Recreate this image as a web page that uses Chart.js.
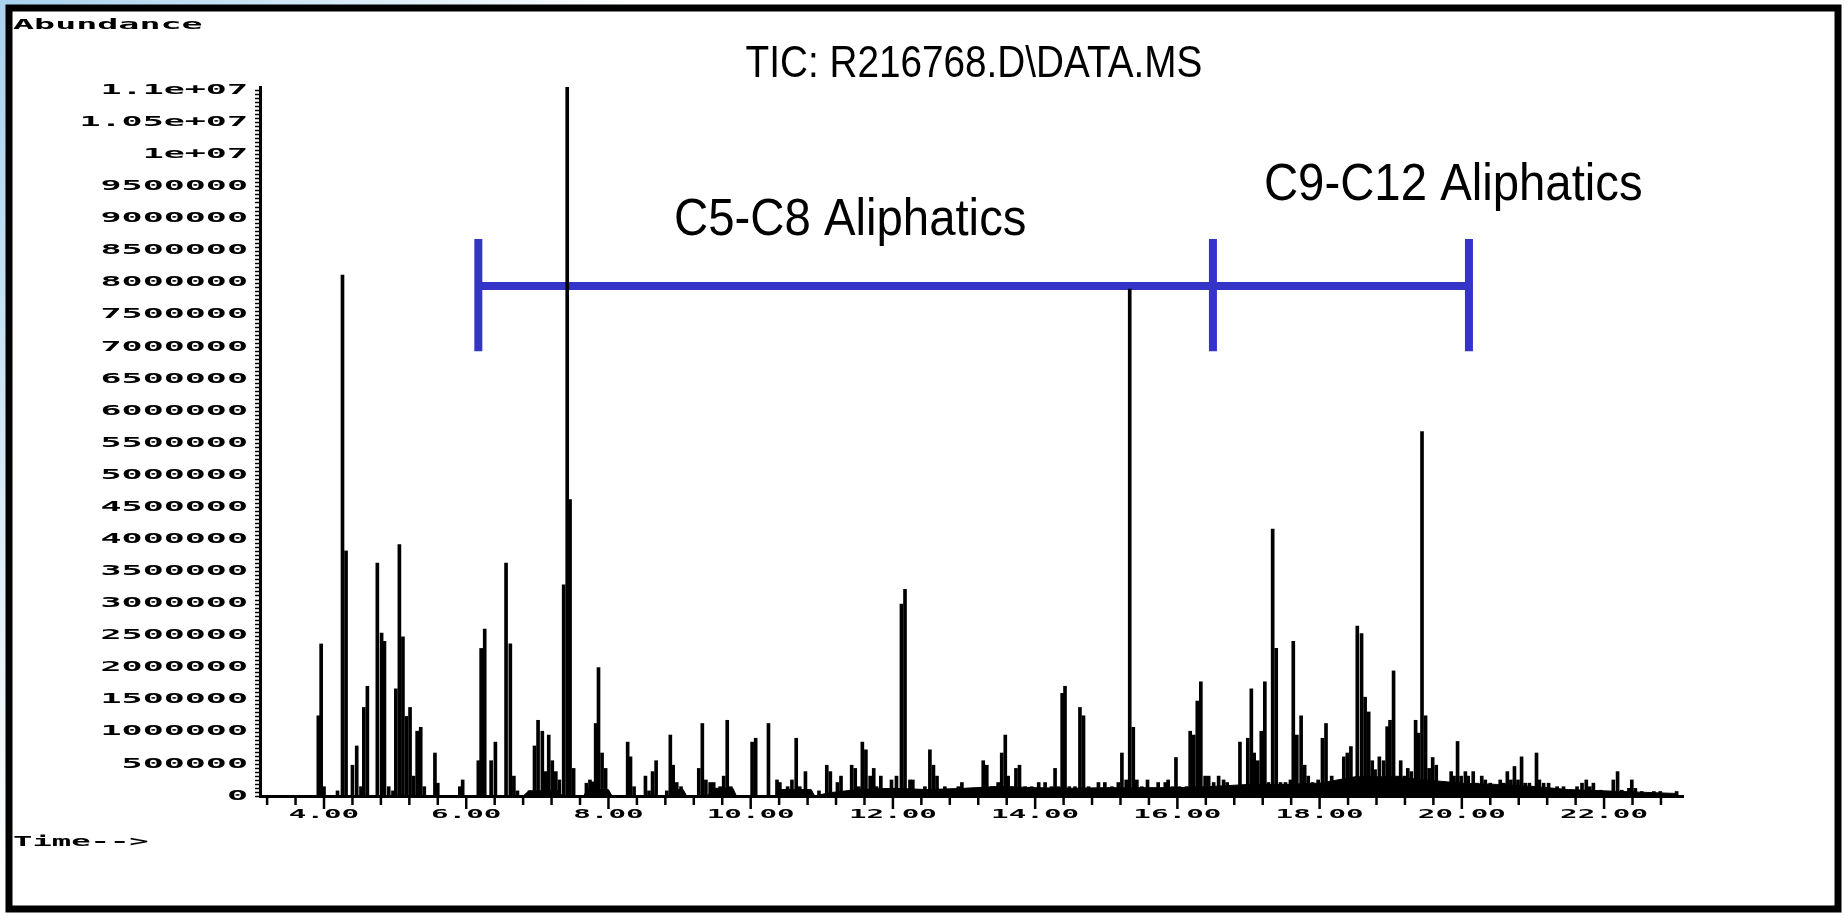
<!DOCTYPE html>
<html>
<head>
<meta charset="utf-8">
<title>TIC: R216768.D\DATA.MS</title>
<script src="https://cdn.jsdelivr.net/npm/chart.js@4.4.1/dist/chart.umd.min.js"></script>
<style>
    html, body { margin: 0; padding: 0; background: #fff; overflow: hidden; }
    canvas { display: block; }
</style>
</head>
<body>
<canvas id="tic" width="1847" height="916"></canvas>
<script>
// retention time (min) and abundance of each spike
const retentionTimes = [
    3.92, 3.96, 4.00, 4.19, 4.26, 4.31, 4.40, 4.46, 4.52, 4.56,
    4.61, 4.75, 4.81, 4.85, 4.91, 4.97, 5.01, 5.06, 5.11, 5.16,
    5.21, 5.26, 5.31, 5.36, 5.41, 5.56, 5.60, 5.91, 5.95, 6.17,
    6.21, 6.26, 6.35, 6.41, 6.56, 6.62, 6.67, 6.72, 6.89, 6.96,
    7.01, 7.07, 7.11, 7.16, 7.21, 7.26, 7.31, 7.37, 7.42, 7.46,
    7.51, 7.69, 7.74, 7.78, 7.82, 7.86, 7.91, 7.96, 8.27, 8.31,
    8.36, 8.52, 8.57, 8.62, 8.67, 8.82, 8.87, 8.91, 8.96, 9.02,
    9.27, 9.32, 9.37, 9.43, 9.48, 9.57, 9.62, 9.67, 9.72, 10.02,
    10.07, 10.25, 10.37, 10.41, 10.52, 10.58, 10.64, 10.69, 10.77, 10.84,
    10.96, 11.07, 11.12, 11.22, 11.27, 11.42, 11.47, 11.52, 11.57, 11.62,
    11.68, 11.73, 11.77, 11.83, 11.98, 12.05, 12.12, 12.17, 12.24, 12.28,
    12.45, 12.52, 12.57, 12.62, 12.73, 12.92, 12.97, 13.27, 13.32, 13.39,
    13.48, 13.53, 13.58, 13.62, 13.67, 13.73, 13.78, 13.86, 13.95, 14.05,
    14.14, 14.23, 14.28, 14.33, 14.38, 14.42, 14.48, 14.56, 14.63, 14.68,
    14.75, 14.89, 14.98, 15.08, 15.17, 15.22, 15.28, 15.33, 15.38, 15.43,
    15.50, 15.58, 15.64, 15.73, 15.83, 15.87, 15.93, 15.98, 16.03, 16.13,
    16.18, 16.23, 16.28, 16.33, 16.39, 16.44, 16.51, 16.58, 16.65, 16.70,
    16.79, 16.88, 16.93, 16.99, 17.04, 17.08, 17.13, 17.18, 17.23, 17.28,
    17.34, 17.39, 17.45, 17.52, 17.59, 17.63, 17.68, 17.74, 17.79, 17.84,
    17.90, 17.98, 18.04, 18.09, 18.17, 18.24, 18.34, 18.39, 18.44, 18.49,
    18.53, 18.59, 18.64, 18.69, 18.74, 18.78, 18.84, 18.90, 18.95, 18.99,
    19.04, 19.09, 19.14, 19.19, 19.24, 19.29, 19.35, 19.39, 19.44, 19.49,
    19.54, 19.59, 19.64, 19.70, 19.74, 19.80, 19.85, 19.89, 19.94, 19.99,
    20.05, 20.09, 20.16, 20.21, 20.28, 20.33, 20.40, 20.47, 20.54, 20.59,
    20.64, 20.69, 20.74, 20.79, 20.84, 20.89, 20.95, 21.00, 21.05, 21.09,
    21.15, 21.22, 21.28, 21.34, 21.43, 21.53, 21.62, 21.69, 21.75, 21.80,
    21.85, 21.95, 22.04, 22.13, 22.19, 22.25, 22.35, 22.39, 22.44, 22.53,
    22.70, 22.79, 23.02
];
const abundances = [
    1250000, 2370000, 145000, 80000, 8120000, 3820000, 480000, 780000, 145000, 1380000,
    1710000, 3630000, 2540000, 2410000, 145000, 80000, 1670000, 3920000, 2480000, 1240000,
    1380000, 310000, 1010000, 1070000, 145000, 670000, 200000, 145000, 250000, 550000,
    2300000, 2600000, 550000, 840000, 3630000, 2370000, 310000, 80000, 80000, 780000,
    1180000, 1010000, 380000, 950000, 550000, 380000, 250000, 3290000, 11050000, 4620000,
    430000, 200000, 250000, 220000, 1130000, 2000000, 670000, 430000, 840000, 610000,
    145000, 310000, 80000, 380000, 550000, 80000, 950000, 480000, 210000, 145000,
    430000, 1130000, 250000, 210000, 210000, 145000, 310000, 1180000, 145000, 840000,
    900000, 1130000, 250000, 210000, 145000, 250000, 900000, 145000, 380000, 80000,
    80000, 480000, 380000, 210000, 310000, 480000, 430000, 145000, 840000, 720000,
    310000, 430000, 145000, 310000, 250000, 310000, 2990000, 3220000, 250000, 250000,
    145000, 720000, 480000, 310000, 145000, 145000, 210000, 550000, 480000, 145000,
    210000, 670000, 950000, 310000, 145000, 430000, 480000, 145000, 145000, 210000,
    210000, 145000, 430000, 145000, 1600000, 1710000, 145000, 145000, 1380000, 1250000,
    145000, 210000, 210000, 145000, 210000, 670000, 250000, 7900000, 1070000, 250000,
    145000, 250000, 80000, 210000, 210000, 250000, 145000, 600000, 145000, 145000,
    1010000, 950000, 1480000, 1780000, 310000, 310000, 210000, 310000, 250000, 210000,
    145000, 840000, 145000, 900000, 1670000, 670000, 550000, 1010000, 1780000, 210000,
    4160000, 2300000, 210000, 210000, 250000, 2410000, 950000, 1250000, 480000, 310000,
    210000, 250000, 900000, 1130000, 310000, 200000, 610000, 670000, 770000, 200000,
    2650000, 2530000, 1540000, 1310000, 550000, 410000, 610000, 550000, 1080000, 1180000,
    1950000, 310000, 550000, 310000, 430000, 380000, 1180000, 980000, 5680000, 1250000,
    430000, 600000, 480000, 200000, 145000, 200000, 380000, 310000, 850000, 310000,
    380000, 310000, 380000, 200000, 310000, 250000, 200000, 145000, 250000, 200000,
    380000, 250000, 460000, 250000, 610000, 200000, 200000, 145000, 670000, 250000,
    200000, 200000, 90000, 145000, 145000, 90000, 145000, 200000, 250000, 145000,
    200000, 90000, 70000, 250000, 380000, 90000, 120000, 250000, 120000, 70000,
    70000, 70000, 70000
];

// unresolved baseline band under the spikes
const bandTimes = [
    3.10, 6.80, 6.88, 7.30, 7.35, 7.65, 7.70, 8.00, 8.05, 8.85,
    8.90, 9.05, 9.10, 9.40, 9.45, 9.75, 9.80, 10.35, 10.40, 10.85,
    10.90, 11.10, 11.50, 12.00, 12.50, 13.00, 13.50, 14.00, 14.50, 15.00,
    15.50, 16.00, 16.50, 17.00, 17.50, 18.00, 18.50, 19.00, 19.50, 20.00,
    20.50, 21.00, 21.50, 22.00, 22.50, 23.00, 23.05
];
const bandLevels = [
    0, 0, 80000, 80000, 0, 0, 100000, 100000, 0, 0,
    100000, 100000, 0, 0, 120000, 120000, 0, 0, 100000, 100000,
    0, 50000, 100000, 120000, 100000, 120000, 150000, 130000, 120000, 130000,
    130000, 130000, 150000, 180000, 180000, 200000, 300000, 300000, 250000, 200000,
    180000, 150000, 100000, 80000, 60000, 40000, 0
];

// axis ticks
const xTickValues = [4, 6, 8, 10, 12, 14, 16, 18, 20, 22];
const xTickLabels = ["4.00", "6.00", "8.00", "10.00", "12.00", "14.00", "16.00", "18.00", "20.00", "22.00"];
const yTickValues = [0, 500000, 1000000, 1500000, 2000000, 2500000, 3000000, 3500000, 4000000, 4500000,
    5000000, 5500000, 6000000, 6500000, 7000000, 7500000, 8000000, 8500000, 9000000, 9500000,
    10000000, 10500000, 11000000];
const yTickLabels = ["0", "500000", "1000000", "1500000", "2000000", "2500000", "3000000", "3500000",
    "4000000", "4500000", "5000000", "5500000", "6000000", "6500000", "7000000", "7500000",
    "8000000", "8500000", "9000000", "9500000", "1e+07", "1.05e+07", "1.1e+07"];

// carbon range brackets (min) and where their labels sit
const rangeEdges = [6.17, 16.5, 20.1];
const rangeLevel = 7950000;
const rangeLabels = ["C5-C8 Aliphatics", "C9-C12 Aliphatics"];
const rangeLabelTimes = [11.4, 19.88];
const rangeLabelLevels = [8740000, 9290000];

const W = 1847, H = 916;
const BLUE = "#3434c8";

function stretchText(c, text, x, y, font, sx, align, baseline)
{
    c.save();
    c.font = font;
    c.textAlign = align;
    c.textBaseline = baseline;
    c.fillStyle = "#000";
    c.translate(x, y);
    c.scale(sx, 1);
    c.fillText(text, 0, 0);
    c.restore();
}

const decor = {
    id: "decor",
    beforeDraw(chart)
    {
        let c = chart.ctx;
        c.save();
        let g = c.createLinearGradient(0, 0, 420, 300);
        g.addColorStop(0, "#a7d2ee");
        g.addColorStop(1, "#ffffff");
        c.fillStyle = g;
        c.fillRect(0, 0, W, H);
        c.fillStyle = "#fff";
        c.fillRect(9, 8, 1829, 901);
        c.restore();
    },
    beforeDatasetsDraw(chart)
    {
        let c = chart.ctx;
        let x = chart.scales.x, y = chart.scales.y;
        c.save();
        c.strokeStyle = BLUE;
        c.lineWidth = 8;
        c.lineCap = "butt";
        let yl = y.getPixelForValue(rangeLevel);
        c.beginPath();
        c.moveTo(x.getPixelForValue(rangeEdges[0]), yl);
        c.lineTo(x.getPixelForValue(rangeEdges[rangeEdges.length - 1]), yl);
        c.stroke();
        let top = y.getPixelForValue(8680000), bot = y.getPixelForValue(6930000);
        for (let i = 0; i < rangeEdges.length; i++)
        {
            let px = x.getPixelForValue(rangeEdges[i]);
            c.beginPath();
            c.moveTo(px, top);
            c.lineTo(px, bot);
            c.stroke();
        }
        c.restore();
        for (let i = 0; i < rangeLabels.length; i++)
        {
            stretchText(c, rangeLabels[i], x.getPixelForValue(rangeLabelTimes[i]),
                y.getPixelForValue(rangeLabelLevels[i]), "52px 'Liberation Sans'", 0.91, "center", "alphabetic");
        }
    },
    afterDraw(chart)
    {
        let c = chart.ctx;
        let x = chart.scales.x, y = chart.scales.y;
        let area = chart.chartArea;
        c.save();
        // frame of the slide
        c.strokeStyle = "#000";
        c.lineWidth = 7;
        c.strokeRect(9, 8, 1829, 901);

        // x ticks, minor every 0.4 min
        c.lineWidth = 2.5;
        for (let i = 0; ; i++)
        {
            let t = 3.2 + 0.4 * i;
            if (t > x.max) break;
            let px = x.getPixelForValue(t);
            let major = Math.abs(t / 2 - Math.round(t / 2)) < 0.01;
            c.beginPath();
            c.moveTo(px, area.bottom);
            c.lineTo(px, area.bottom + (major ? 13 : 9));
            c.stroke();
        }
        // y ticks
        c.lineWidth = 1.5;
        for (let v = 0; v <= y.max; v += 62500)
        {
            let py = Math.round(y.getPixelForValue(v)) + 0.5;
            c.beginPath();
            c.moveTo(area.left - 5, py);
            c.lineTo(area.left - 1, py);
            c.stroke();
        }
        c.restore();

        for (let i = 0; i < yTickValues.length; i++)
        {
            stretchText(c, yTickLabels[i], 248, y.getPixelForValue(yTickValues[i]),
                "bold 14px 'DejaVu Sans Mono'", 2.5, "right", "middle");
        }
        for (let i = 0; i < xTickValues.length; i++)
        {
            stretchText(c, xTickLabels[i], x.getPixelForValue(xTickValues[i]), 815,
                "bold 13px 'DejaVu Sans Mono'", 2.25, "center", "middle");
        }
        stretchText(c, "Abundance", 13, 25, "bold 14px 'DejaVu Sans Mono'", 2.5, "left", "middle");
        stretchText(c, "Time-->", 13, 842, "bold 14px 'DejaVu Sans Mono'", 2.3, "left", "middle");
        stretchText(c, "TIC: R216768.D\\DATA.MS", 974, 77, "44px 'Liberation Sans'", 0.88, "center", "alphabetic");
    }
};

let spikes = [];
for (let i = 0; i < retentionTimes.length; i++)
{
    spikes.push({x: retentionTimes[i], y: abundances[i]});
}
let band = [];
for (let i = 0; i < bandTimes.length; i++)
{
    band.push({x: bandTimes[i], y: bandLevels[i]});
}

let chart = new Chart(document.getElementById("tic"), {
    type: "bar",
    data: {
        datasets: [
            {
                type: "bar",
                data: spikes,
                backgroundColor: "#000",
                borderWidth: 0,
                barThickness: 3
            },
            {
                type: "line",
                data: band,
                borderColor: "#000",
                borderWidth: 1,
                backgroundColor: "#000",
                fill: "origin",
                pointRadius: 0,
                tension: 0
            }
        ]
    },
    options: {
        responsive: false,
        animation: false,
        devicePixelRatio: 1,
        layout: { padding: { left: 260, top: 87, right: 164, bottom: 120 } },
        plugins: { legend: { display: false }, tooltip: { enabled: false }, title: { display: false } },
        scales: {
            x: {
                type: "linear",
                min: 3.1,
                max: 23.11,
                offset: false,
                grid: { display: false, drawTicks: false },
                ticks: { display: false },
                border: { display: true, color: "#000", width: 3 }
            },
            y: {
                type: "linear",
                min: 0,
                max: 11050000,
                grid: { display: false, drawTicks: false },
                ticks: { display: false },
                border: { display: true, color: "#000", width: 3 }
            }
        }
    },
    plugins: [decor]
});
</script>
</body>
</html>
